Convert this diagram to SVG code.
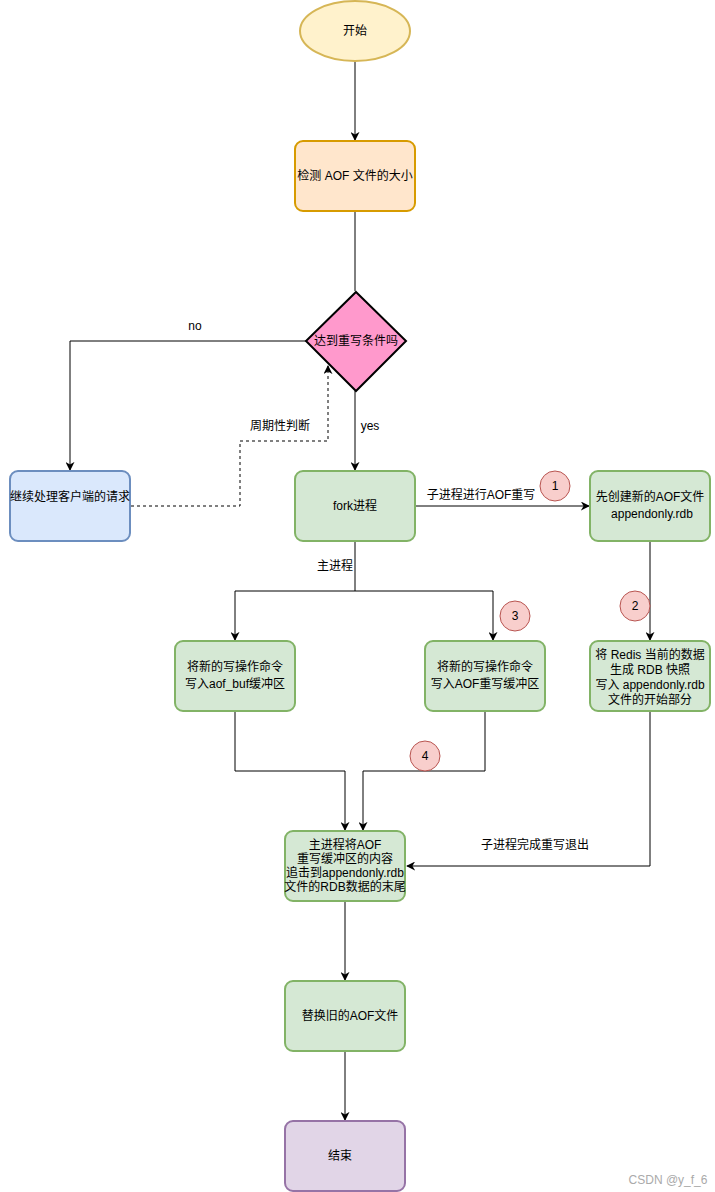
<svg xmlns="http://www.w3.org/2000/svg" width="715" height="1192" viewBox="0 0 715 1192">
<style>
text{font-family:"Liberation Sans","Noto Sans CJK SC",sans-serif;font-size:12px;fill:#000;text-anchor:middle;dominant-baseline:central}
.g{fill:#d5e8d4;stroke:#82b366;stroke-width:2}
.c{fill:#f8cecc;stroke:#b85450;stroke-width:1}
.e{fill:none;stroke:#000;stroke-width:1}
</style>
<defs>
<marker id="a" viewBox="0 0 10 10" refX="9" refY="5" markerWidth="9" markerHeight="9" markerUnits="userSpaceOnUse" orient="auto">
<path d="M0,0 L10,5 L0,10 L3,5 Z" fill="#000"/>
</marker>
</defs>
<rect width="715" height="1192" fill="#fff"/>
<g id="connectors">
<path class="e" d="M355,61 V140" marker-end="url(#a)"/>
<path class="e" d="M355,212 V291"/>
<path class="e" d="M306,341 H70 V470" marker-end="url(#a)"/>
<path class="e" d="M131,506 H240 V441 H328 V366" stroke-dasharray="3,3" marker-end="url(#a)"/>
<path class="e" d="M355,391 V470" marker-end="url(#a)"/>
<path class="e" d="M415,506 H589" marker-end="url(#a)"/>
<path class="e" d="M650,541 V640" marker-end="url(#a)"/>
<path class="e" d="M355,541 V591 H235 V640" marker-end="url(#a)"/>
<path class="e" d="M355,591 H493 V640" marker-end="url(#a)"/>
<path class="e" d="M235,711 V771 H345 V830" marker-end="url(#a)"/>
<path class="e" d="M485,711 V771 H363 V830" marker-end="url(#a)"/>
<path class="e" d="M650,711 V866 H407" marker-end="url(#a)"/>
<path class="e" d="M345,901 V980" marker-end="url(#a)"/>
<path class="e" d="M345,1052 V1120" marker-end="url(#a)"/>
<text x="195" y="326">no</text>
<text x="280" y="426">周期性判断</text>
<text x="370" y="426">yes</text>
<text x="481" y="495">子进程进行AOF重写</text>
<text x="335" y="566">主进程</text>
<text x="535" y="845">子进程完成重写退出</text>
</g>
<g id="start">
<ellipse cx="355" cy="31" rx="55" ry="30" fill="#fff2cc" stroke="#d6b656" stroke-width="2"/>
<text x="355" y="31">开始</text>
</g>
<g id="check">
<rect x="295" y="141" width="120" height="70" rx="8" fill="#ffe6cc" stroke="#d79b00" stroke-width="2"/>
<text x="355" y="176">检测 AOF 文件的大小</text>
</g>
<g id="cond">
<path d="M356,292 L406,341 L356,391 L306,341 Z" fill="#ff99cc" stroke="#000" stroke-width="2"/>
<text x="356" y="341">达到重写条件吗</text>
</g>
<g id="client">
<rect x="10" y="471" width="120" height="70" rx="8" fill="#dae8fc" stroke="#6c8ebf" stroke-width="2"/>
<text x="70" y="497">继续处理客户端的请求</text>
</g>
<g id="fork">
<rect class="g" x="295" y="471" width="120" height="70" rx="8"/>
<text x="355" y="506">fork进程</text>
</g>
<g id="newaof">
<rect class="g" x="590" y="471" width="120" height="70" rx="8"/>
<text x="650" y="497">先创建新的AOF文件</text>
<text x="652" y="514">appendonly.rdb</text>
</g>
<g id="rdb">
<rect class="g" x="590" y="641" width="120" height="70" rx="8"/>
<text x="650" y="655">将 Redis 当前的数据</text>
<text x="650" y="670">生成 RDB 快照</text>
<text x="650" y="685">写入 appendonly.rdb</text>
<text x="650" y="700">文件的开始部分</text>
</g>
<g id="aofbuf">
<rect class="g" x="175" y="641" width="120" height="70" rx="8"/>
<text x="235" y="667">将新的写操作命令</text>
<text x="235" y="684">写入aof_buf缓冲区</text>
</g>
<g id="rewritebuf">
<rect class="g" x="425" y="641" width="120" height="70" rx="8"/>
<text x="485" y="667">将新的写操作命令</text>
<text x="485" y="684">写入AOF重写缓冲区</text>
</g>
<g id="append">
<rect class="g" x="285" y="831" width="120" height="70" rx="8"/>
<text x="345" y="845">主进程将AOF</text>
<text x="345" y="859">重写缓冲区的内容</text>
<text x="345" y="873">追击到appendonly.rdb</text>
<text x="345" y="887">文件的RDB数据的末尾</text>
</g>
<g id="replace">
<rect class="g" x="285" y="981" width="120" height="70" rx="8"/>
<text x="350" y="1016">替换旧的AOF文件</text>
</g>
<g id="end">
<rect x="285" y="1121" width="120" height="70" rx="8" fill="#e1d5e7" stroke="#9673a6" stroke-width="2"/>
<text x="340" y="1156">结束</text>
</g>
<g id="badges">
<circle class="c" cx="555" cy="486" r="15"/><text x="555" y="486">1</text>
<circle class="c" cx="635" cy="606" r="15"/><text x="635" y="606">2</text>
<circle class="c" cx="515" cy="616" r="15"/><text x="515" y="616">3</text>
<circle class="c" cx="425" cy="756" r="15"/><text x="425" y="756">4</text>
</g>
<text x="668" y="1180" style="fill:#aaa;font-size:12px">CSDN @y_f_6</text>
</svg>
